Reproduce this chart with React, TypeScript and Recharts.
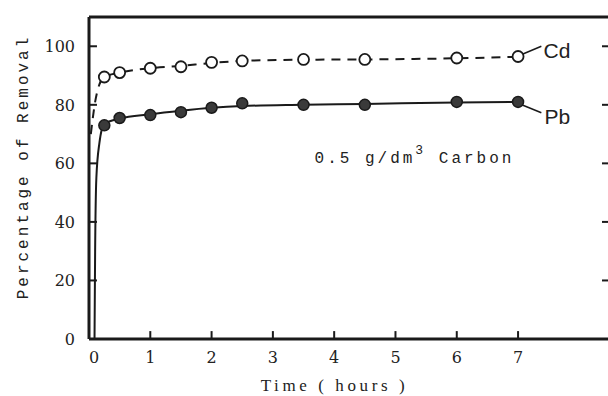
import { ComposedChart, Scatter, XAxis, YAxis, ReferenceLine, ReferenceDot } from 'recharts';

// measured times (hours)
const times = [0.25, 0.5, 1, 1.5, 2, 2.5, 3.5, 4.5, 6, 7];
const cdValues = [89.5, 91, 92.5, 93, 94.5, 95, 95.5, 95.5, 96, 96.5];
const pbValues = [73, 75.5, 76.5, 77.5, 79, 80.5, 80, 80, 81, 81];

// hand-drawn fitted curves
const cdCurveX = [0.03, 0.1, 0.17, 0.25, 0.5, 1, 1.5, 2, 2.5, 3.5, 4.5, 6, 7];
const cdCurveY = [70, 81, 87, 89.5, 91, 92.5, 93.3, 94.3, 95, 95.4, 95.5, 95.9, 96.4];
const pbCurveX = [0.09, 0.1, 0.12, 0.17, 0.25, 0.5, 1, 1.5, 2, 2.5, 3.5, 4.5, 6, 7];
const pbCurveY = [0, 30, 55, 67, 73.5, 75.3, 76.8, 78, 79, 79.6, 80, 80.3, 80.8, 81];

const xTicks = [0, 1, 2, 3, 4, 5, 6, 7];
const yTicks = [0, 20, 40, 60, 80, 100];
const rightTicks = [20, 40, 60, 80, 100];

const X_MAX = 8.5;
const Y_MAX = 110;
// inward tick length in axis units (about 8px)
const X_TICK_LEN = 0.13;
const Y_TICK_LEN = 2.7;

const cdPoints = times.map((t, i) => ({ x: t, y: cdValues[i] }));
const pbPoints = times.map((t, i) => ({ x: t, y: pbValues[i] }));
const cdCurve = cdCurveX.map((t, i) => ({ x: t, y: cdCurveY[i] }));
const pbCurve = pbCurveX.map((t, i) => ({ x: t, y: pbCurveY[i] }));

// tick marks as short two-point segments
const leftSegs = yTicks.filter((v) => v > 0).map((v) => [{ x: 0, y: v }, { x: X_TICK_LEN, y: v }]);
const bottomSegs = xTicks.filter((v) => v > 0).map((v) => [{ x: v, y: 0 }, { x: v, y: Y_TICK_LEN }]);
const rightMarks = rightTicks.map((v) => ({ x: X_MAX, y: v }));

const serif = 'DejaVu Serif';
const mono = 'Liberation Mono';
const ink = '#1a1a1a';

const LeftTick = (p: any) => {
  const { x, y, payload } = p;
  return (
    <text x={Number(x)} y={Number(y)} dy={6} textAnchor="end" fontFamily={serif} fontSize={16} fill="#222">
      {payload.value}
    </text>
  );
};

const BottomTick = (p: any) => {
  const { x, y, payload } = p;
  const v = payload.value;
  return (
    <text x={v === 0 ? Number(x) + 5 : Number(x)} y={Number(y)} textAnchor="middle" fontFamily={serif} fontSize={16} fill="#222">
      {v}
    </text>
  );
};

const MarkLeft = (p: any) => <line x1={p.cx - 8} x2={p.cx} y1={p.cy} y2={p.cy} stroke={ink} strokeWidth={2} />;

const Hollow = (p: any) => (
  <circle cx={p.cx} cy={p.cy} r={5.5} fill="#fff" stroke={ink} strokeWidth={1.8} />
);
const Filled = (p: any) => (
  <circle cx={p.cx} cy={p.cy} r={5.5} fill="#3a3a3a" stroke={ink} strokeWidth={1.5} />
);
const NoShape = () => <g />;

export default function App() {
  return (
    <div style={{ position: 'absolute', left: 0, top: 0, width: 608, height: 396, overflow: 'hidden', background: '#fff' }}>
      <ComposedChart width={614} height={396} margin={{ top: 16, right: 3, bottom: 27, left: 29 }}>
        <XAxis
          xAxisId="b"
          type="number"
          dataKey="x"
          domain={[0, X_MAX]}
          ticks={xTicks}
          tickSize={0}
          tickMargin={24}
          tick={<BottomTick />}
          height={30}
          axisLine={{ stroke: ink, strokeWidth: 3 }}
          tickLine={false}
          label={{
            content: (lp: any) => {
              const vb = lp.viewBox;
              return (
                <text x={vb.x + vb.width / 2 - 15} y={391} textAnchor="middle" fontFamily="Liberation Serif" fontSize={17} letterSpacing={3.6} fill="#222">
                  Time ( hours )
                </text>
              );
            },
          }}
        />
        <XAxis
          xAxisId="t"
          orientation="top"
          type="number"
          dataKey="x"
          domain={[0, X_MAX]}
          height={1}
          tick={false}
          tickLine={false}
          axisLine={{ stroke: ink, strokeWidth: 3 }}
        />
        <YAxis
          yAxisId="l"
          type="number"
          dataKey="y"
          domain={[0, Y_MAX]}
          ticks={yTicks}
          width={60}
          tickSize={0}
          tickMargin={14}
          tick={<LeftTick />}
          tickLine={false}
          axisLine={{ stroke: ink, strokeWidth: 3 }}
          label={{
            content: () => (
              <text x={22} y={167} transform="rotate(-90, 22, 167)" dy={6} textAnchor="middle" fontFamily={mono} fontSize={16} letterSpacing={3} fill="#222">
                Percentage of Removal
              </text>
            ),
          }}
        />
        <YAxis
          yAxisId="r"
          orientation="right"
          type="number"
          dataKey="y"
          domain={[0, Y_MAX]}
          width={1}
          tick={false}
          tickLine={false}
          axisLine={{ stroke: ink, strokeWidth: 3 }}
        />

        {leftSegs.map((seg, i) => (
          <Scatter
            key={`ls${i}`}
            xAxisId="b"
            yAxisId="l"
            data={seg}
            line={{ stroke: ink, strokeWidth: 2 }}
            shape={<NoShape />}
            isAnimationActive={false}
          />
        ))}
        {bottomSegs.map((seg, i) => (
          <Scatter
            key={`bs${i}`}
            xAxisId="b"
            yAxisId="l"
            data={seg}
            line={{ stroke: ink, strokeWidth: 2 }}
            shape={<NoShape />}
            isAnimationActive={false}
          />
        ))}
        <Scatter xAxisId="b" yAxisId="l" data={rightMarks} shape={<MarkLeft />} isAnimationActive={false} />

        <Scatter
          xAxisId="b"
          yAxisId="l"
          data={pbCurve}
          line={{ stroke: ink, strokeWidth: 2 }}
          lineJointType="monotoneX"
          shape={<NoShape />}
          isAnimationActive={false}
        />
        <Scatter
          xAxisId="b"
          yAxisId="l"
          data={cdCurve}
          line={{ stroke: ink, strokeWidth: 2, strokeDasharray: '9 7' }}
          lineJointType="monotoneX"
          shape={<NoShape />}
          isAnimationActive={false}
        />
        <Scatter xAxisId="b" yAxisId="l" data={pbPoints} shape={<Filled />} isAnimationActive={false} />
        <Scatter xAxisId="b" yAxisId="l" data={cdPoints} shape={<Hollow />} isAnimationActive={false} />

        <ReferenceLine
          xAxisId="b"
          yAxisId="l"
          segment={[{ x: 7.06, y: 97.2 }, { x: 7.38, y: 100 }]}
          stroke={ink}
          strokeWidth={1.5}
        />
        <ReferenceLine
          xAxisId="b"
          yAxisId="l"
          segment={[{ x: 7.06, y: 80 }, { x: 7.38, y: 77.3 }]}
          stroke={ink}
          strokeWidth={1.5}
        />
        <ReferenceDot
          xAxisId="b"
          yAxisId="l"
          x={7.4}
          y={100}
          r={0}
          label={{
            content: (lp: any) => (
              <text x={lp.viewBox.x + 1} y={lp.viewBox.y + 12} fontFamily="Liberation Sans" fontSize={21} fill="#222">
                Cd
              </text>
            ),
          }}
        />
        <ReferenceDot
          xAxisId="b"
          yAxisId="l"
          x={7.4}
          y={77.3}
          r={0}
          label={{
            content: (lp: any) => (
              <text x={lp.viewBox.x + 2} y={lp.viewBox.y + 11} fontFamily="Liberation Sans" fontSize={21} fill="#222">
                Pb
              </text>
            ),
          }}
        />
        <ReferenceDot
          xAxisId="b"
          yAxisId="l"
          x={3.68}
          y={60}
          r={0}
          label={{
            content: (lp: any) => (
              <text x={lp.viewBox.x} y={lp.viewBox.y} fontFamily={mono} fontSize={16} letterSpacing={3} fill="#222">
                0.5 g/dm
                <tspan fontSize={13} dy={-9}>3</tspan>
                <tspan dy={9}> Carbon</tspan>
              </text>
            ),
          }}
        />
      </ComposedChart>
    </div>
  );
}
